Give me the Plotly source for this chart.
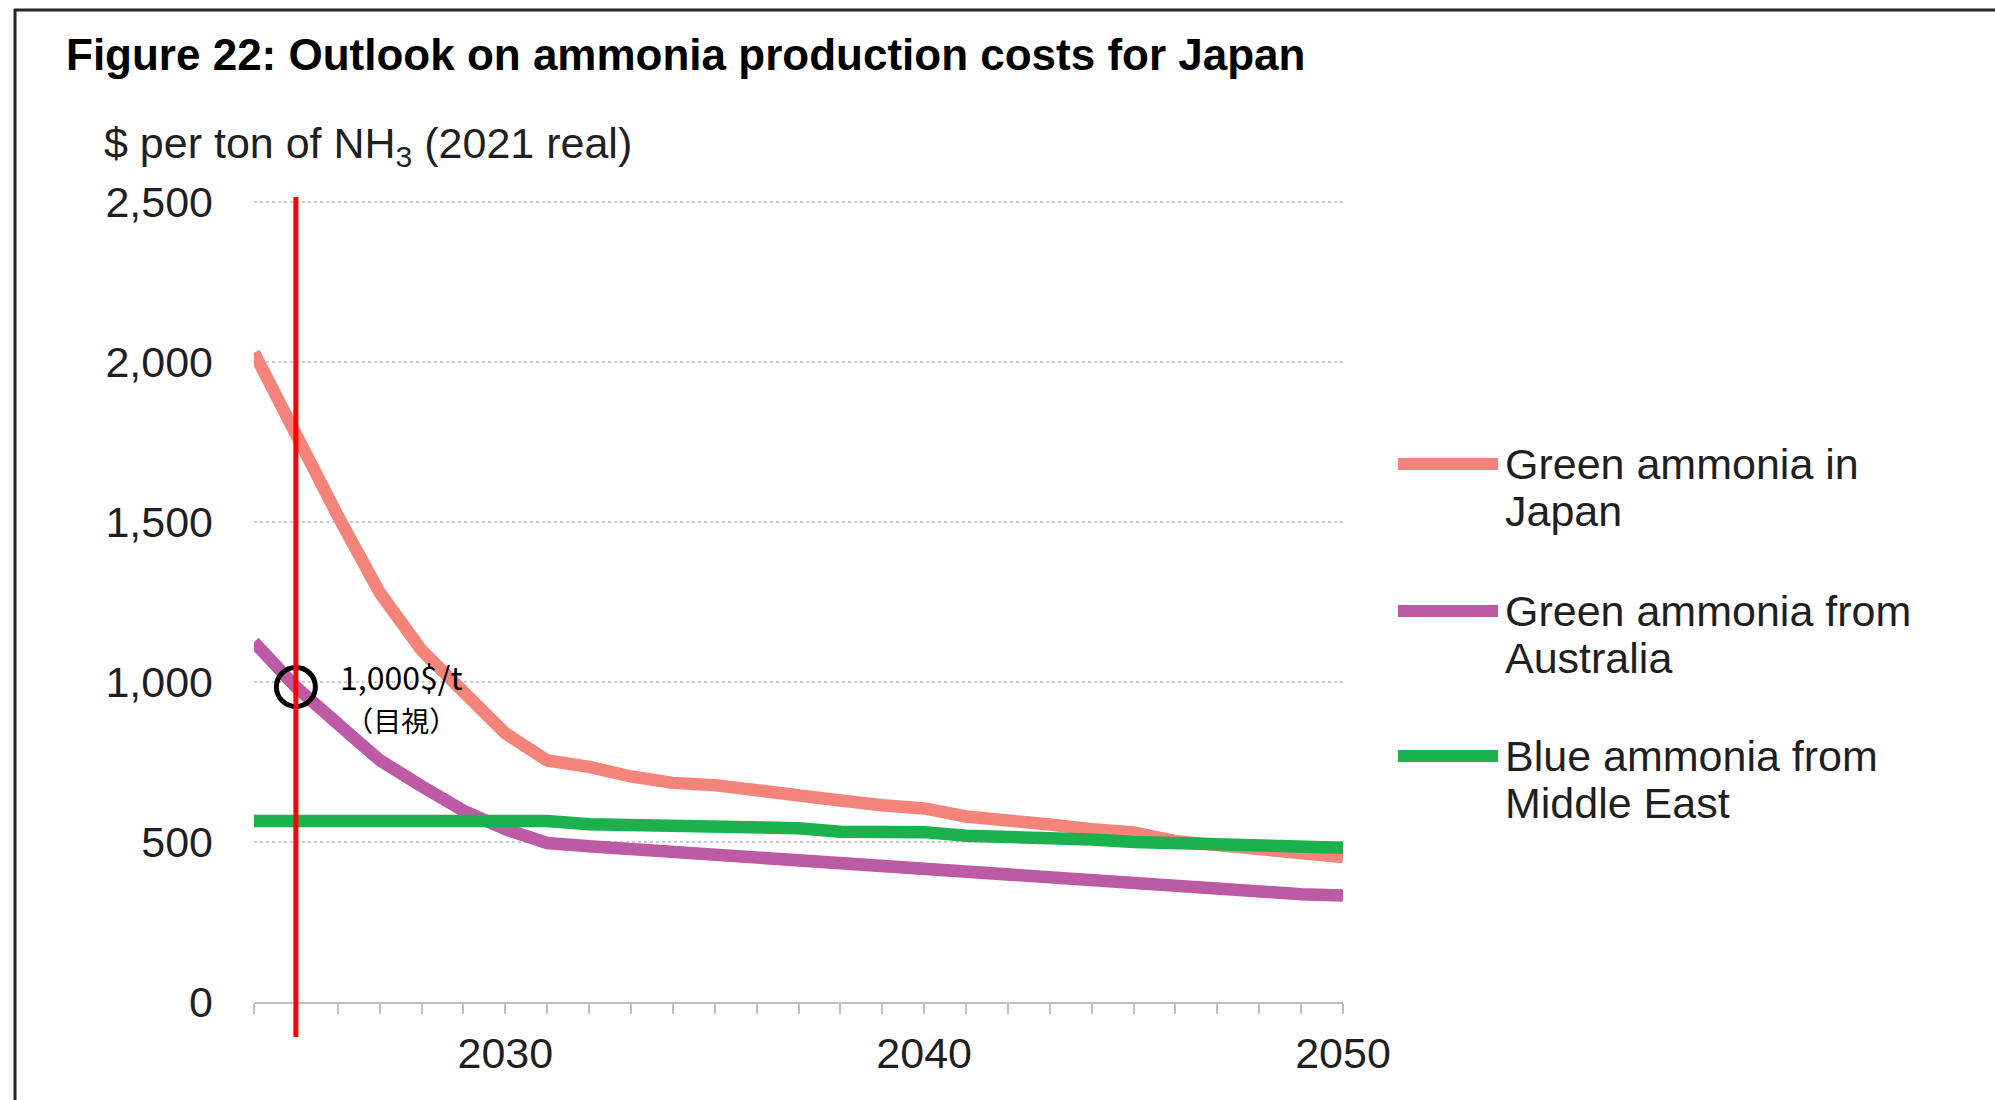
import plotly.graph_objects as go

# ---------------- data ----------------
YEARS = [2024, 2025, 2026, 2027, 2028, 2029, 2030, 2031, 2032, 2033, 2034, 2035, 2036, 2037,
         2038, 2039, 2040, 2041, 2042, 2043, 2044, 2045, 2046, 2047, 2048, 2049, 2050]

GREEN_JAPAN = [2030, 1765, 1520, 1280, 1100, 970, 840, 755, 735, 705, 685, 678, 660, 640,
               630, 615, 605, 580, 570, 555, 540, 530, 503, 490, 476, 465, 453]

GREEN_AUSTRALIA = [1125, 985, 870, 756, 675, 598, 540, 497, 487, 478, 466, 455, 446, 437,
                   428, 427, 418, 405, 397, 387, 376, 371, 360, 350, 340, 337, 333]

BLUE_MIDDLE_EAST = [566, 566, 566, 566, 566, 566, 566, 566, 556, 555, 554, 544, 543, 543,
                    532, 531, 531, 520, 519, 514, 508, 500, 498, 495, 492, 488, 482]

SERIES_NAMES = ["Green ammonia in<br>Japan", "Green ammonia from<br>Australia",
                "Blue ammonia from<br>Middle East"]
SERIES_COLORS = ["#F4837A", "#BC5AA5", "#1DB14E"]

Y_TICKS = [0, 500, 1000, 1500, 2000, 2500]
X_TICKS = [2030, 2040, 2050]
X_TICK_LABELS = ["2030", "2040", "2050"]

MARK_YEAR = 2025
MARK_VALUE = 985
MARK_LABEL = "1,000$/t"
MARK_NOTE = "（目視）"

TITLE = "Figure 22: Outlook on ammonia production costs for Japan"
Y_TITLE = "$ per ton of NH<sub>3</sub> (2021 real)"

# ---------------- layout helpers (pixel -> paper) ----------------
W, H = 1995, 1100
PL, PR, PT, PB = 254, 1343, 201, 1002


def pxx(x):
    return (x - PL) / (PR - PL)


def pxy(y):
    return (PB - y) / (PB - PT)


FONT = "Liberation Sans, Arial, sans-serif"
TXT = "#1f1f1f"
FS = 43

fig = go.Figure()

for vals, color in zip([GREEN_JAPAN, GREEN_AUSTRALIA, BLUE_MIDDLE_EAST], SERIES_COLORS):
    fig.add_trace(go.Scatter(
        x=YEARS, y=vals, mode="lines",
        line=dict(color=color, width=12.5, shape="linear"),
        showlegend=False, hoverinfo="skip",
    ))

# circle marker at the read-off point
fig.add_trace(go.Scatter(
    x=[MARK_YEAR], y=[MARK_VALUE], mode="markers",
    marker=dict(symbol="circle-open", size=39, color="black", line=dict(width=5, color="black")),
    showlegend=False, hoverinfo="skip", cliponaxis=False,
))

shapes = []
# red vertical line
shapes.append(dict(type="line", xref="x", yref="paper", x0=MARK_YEAR, x1=MARK_YEAR,
                   y0=pxy(1037), y1=pxy(197), line=dict(color="#FF0000", width=5), layer="above"))
# outer frame (left and top)
shapes.append(dict(type="line", xref="paper", yref="paper", x0=pxx(15), x1=pxx(15),
                   y0=pxy(9), y1=pxy(1110), line=dict(color="#262626", width=3)))
shapes.append(dict(type="line", xref="paper", yref="paper", x0=pxx(14), x1=pxx(2005),
                   y0=pxy(10), y1=pxy(10), line=dict(color="#262626", width=3)))

# custom legend
legend_y = [464, 611, 756]
annotations = []
for name, color, ly in zip(SERIES_NAMES, SERIES_COLORS, legend_y):
    shapes.append(dict(type="line", xref="paper", yref="paper", x0=pxx(1398), x1=pxx(1498),
                       y0=pxy(ly), y1=pxy(ly), line=dict(color=color, width=12)))
    lines = name.split("<br>")
    for i, t in enumerate(lines):
        annotations.append(dict(xref="paper", yref="paper", x=pxx(1503), y=pxy(ly + i * 47),
                                xanchor="left", yanchor="middle", text=t, showarrow=False,
                                font=dict(family=FONT, size=FS, color=TXT)))

# y-axis title
annotations.append(dict(xref="paper", yref="paper", x=pxx(102), y=pxy(146), xanchor="left",
                        yanchor="middle", text=Y_TITLE, showarrow=False,
                        font=dict(family=FONT, size=FS, color=TXT)))

# mark annotation (two lines in one text block)
annotations.append(dict(xref="x", yref="y", x=MARK_YEAR, y=MARK_VALUE, xshift=106, yshift=-10,
                        text=MARK_LABEL + "<br><span style='font-size:28px'>" + MARK_NOTE + "</span>",
                        showarrow=False, xanchor="center", yanchor="middle", align="center",
                        font=dict(family="Noto Sans CJK JP", size=32, color="#000000")))

fig.update_layout(
    width=W, height=H,
    margin=dict(l=PL, r=W - PR, t=PT, b=H - PB, pad=0),
    paper_bgcolor="white", plot_bgcolor="white",
    title=dict(text="<b>" + TITLE + "</b>", xref="container", yref="container",
               x=66 / W, y=1 - 55 / H, xanchor="left", yanchor="middle",
               font=dict(family=FONT, size=44, color="#000000")),
    shapes=shapes, annotations=annotations,
    showlegend=False,
)

fig.update_xaxes(
    range=[2024, 2050], tickvals=X_TICKS, ticktext=X_TICK_LABELS,
    ticks="outside", ticklen=10, tickwidth=2, tickcolor="#bfbfbf",
    minor=dict(tick0=2024, dtick=1, ticks="outside", ticklen=10, tickwidth=2,
               tickcolor="#bfbfbf", showgrid=False),
    showline=True, linecolor="#bfbfbf", linewidth=2, showgrid=False, zeroline=False,
    tickfont=dict(family=FONT, size=FS, color=TXT), ticklabelstandoff=2,
)
fig.update_yaxes(
    range=[0, 2504], tickvals=Y_TICKS, tickformat=",",
    showgrid=True, gridcolor="#cccccc", griddash="dot", gridwidth=2,
    zeroline=False, showline=False, ticks="",
    tickfont=dict(family=FONT, size=FS, color=TXT), ticklabelstandoff=40,
)

fig.write_html("out.html", config={"displayModeBar": False},
               post_script="document.body.style.margin='0';")
